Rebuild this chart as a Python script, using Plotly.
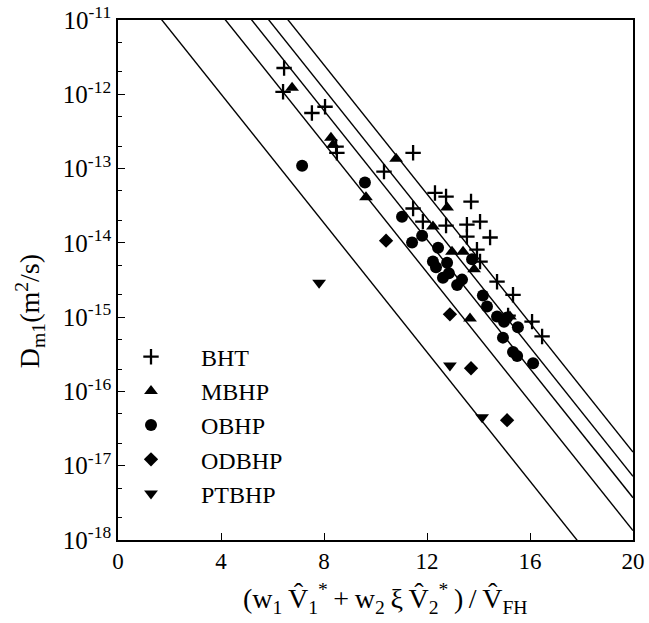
import plotly.graph_objects as go
import math

# ---- data ----
bht_x = [6.45, 6.41, 7.53, 8.04, 8.47, 8.50, 10.33, 11.46, 12.31, 12.74, 13.71, 11.46,
         11.84, 12.74, 13.55, 14.06, 13.55, 14.45, 13.94, 14.06, 14.72, 15.34, 15.15,
         16.08, 16.47]
bht_y = [2.26e-12, 1.08e-12, 5.6e-13, 6.8e-13, 1.97e-13, 1.63e-13, 9.1e-14, 1.63e-13,
         4.7e-14, 4.2e-14, 3.6e-14, 2.9e-14, 1.93e-14, 1.71e-14, 1.76e-14, 1.93e-14,
         1.21e-14, 1.18e-14, 8.1e-15, 5.6e-15, 3.0e-15, 2.0e-15, 1.05e-15, 8.7e-16, 5.5e-16]

mbhp_x = [6.76, 8.27, 8.35, 10.80, 9.63, 12.78, 12.23, 12.97, 13.40, 13.83, 13.67, 15.22]
mbhp_y = [1.22e-12, 2.6e-13, 2.1e-13, 1.36e-13, 4.1e-14, 3.0e-14, 1.66e-14, 7.6e-15,
          7.6e-15, 4.4e-15, 9.6e-16, 1.02e-15]

obhp_x = [7.15, 9.59, 11.03, 11.42, 11.81, 12.43, 12.23, 12.35, 12.78, 12.62, 12.85,
          13.17, 13.36, 13.75, 14.17, 14.33, 14.72, 14.99, 15.11, 15.53, 14.95, 15.34,
          15.50, 16.12]
obhp_y = [1.09e-13, 6.5e-14, 2.25e-14, 1.01e-14, 1.25e-14, 8.6e-15, 5.6e-15, 4.7e-15,
          5.4e-15, 3.4e-15, 3.9e-15, 2.7e-15, 3.2e-15, 6.0e-15, 1.96e-15, 1.39e-15,
          1.02e-15, 8.7e-16, 9.9e-16, 7.3e-16, 5.3e-16, 3.4e-16, 3.0e-16, 2.4e-16]

odbhp_x = [10.41, 12.89, 13.71, 15.11]
odbhp_y = [1.07e-14, 1.09e-15, 2.05e-16, 4.1e-17]

ptbhp_x = [7.81, 12.89, 14.14]
ptbhp_y = [2.9e-15, 2.24e-16, 4.5e-17]

# fitted lines  D = D0 * exp(-x)
line_D0 = [5.5e-11, 6.5e-10, 1.8e-9, 3.5e-9, 7.4e-9]
line_x = [0, 20]

x_ticks = [0, 4, 8, 12, 16, 20]
y_tick_exp = [-11, -12, -13, -14, -15, -16, -17, -18]

FONT = "Liberation Serif"
fig = go.Figure()

for d0 in line_D0:
    fig.add_trace(go.Scatter(
        x=line_x, y=[d0 * math.exp(-xx) for xx in line_x], mode="lines",
        line=dict(color="black", width=1.4), showlegend=False, hoverinfo="skip"))

series = [
    ("BHT", bht_x, bht_y, "cross-thin", 11),
    ("MBHP", mbhp_x, mbhp_y, "triangle-up", 12),
    ("OBHP", obhp_x, obhp_y, "circle", 12),
    ("ODBHP", odbhp_x, odbhp_y, "diamond", 11),
    ("PTBHP", ptbhp_x, ptbhp_y, "triangle-down", 12),
]
for name, xs, ys, sym, sz in series:
    if sym == "cross-thin":
        mk = dict(symbol=sym, size=sz, color="black", line=dict(color="black", width=2.3))
    else:
        mk = dict(symbol=sym, size=sz, color="black", line=dict(width=0))
    fig.add_trace(go.Scatter(x=xs, y=ys, mode="markers", name=name, marker=mk,
                             legendgroup=name))

ts = "\u2009"
x_title = ts.join(["(w<sub>1</sub>", "V\u0302<sub>1</sub><sup>*</sup>", "+",
                   "w<sub>2</sub>", "\u03be", "V\u0302<sub>2</sub><sup>*</sup>", ")",
                   "/", "V\u0302<sub>FH</sub>"])

fig.update_layout(
    width=649, height=623,
    margin=dict(l=118, r=16, t=20, b=83),
    paper_bgcolor="white", plot_bgcolor="white",
    font=dict(family=FONT, color="black", size=20),
    showlegend=True,
    legend=dict(x=-0.033, y=0.395, xanchor="left", yanchor="top",
                bgcolor="rgba(0,0,0,0)", font=dict(family=FONT, size=24),
                tracegroupgap=0, itemwidth=90),
    xaxis=dict(range=[0, 20], tickvals=x_ticks, ticktext=[str(t) for t in x_ticks],
               ticks="inside", ticklen=7, tickwidth=1.2, tickcolor="black",
               showline=True, linecolor="black", linewidth=1.6, mirror=True,
               showgrid=False, zeroline=False, automargin=False,
               tickfont=dict(family=FONT, size=23)),
    yaxis=dict(type="log", range=[-18, -11],
               tickvals=[10 ** e for e in y_tick_exp],
               ticktext=["10<sup>%d</sup>" % e for e in y_tick_exp],
               ticks="inside", ticklen=7, tickwidth=1.2, tickcolor="black",
               minor=dict(ticks="inside", ticklen=4, tickcolor="black", tickwidth=0.8,
                          showgrid=False),
               showline=True, linecolor="black", linewidth=1.6, mirror=True,
               showgrid=False, zeroline=False, automargin=False,
               tickfont=dict(family=FONT, size=25)),
    annotations=[
        dict(text=x_title, xref="paper", yref="paper", x=0.52, y=0, yshift=-58,
             xanchor="center", yanchor="middle", showarrow=False,
             font=dict(family=FONT, size=28)),
        dict(text="D<sub>m1</sub>(m<sup>2</sup>/s)", xref="paper", yref="paper",
             x=-0.171, y=0.44, xanchor="center", yanchor="middle", textangle=-90,
             showarrow=False, font=dict(family=FONT, size=28)),
    ],
)

fig.write_html("out.html")
